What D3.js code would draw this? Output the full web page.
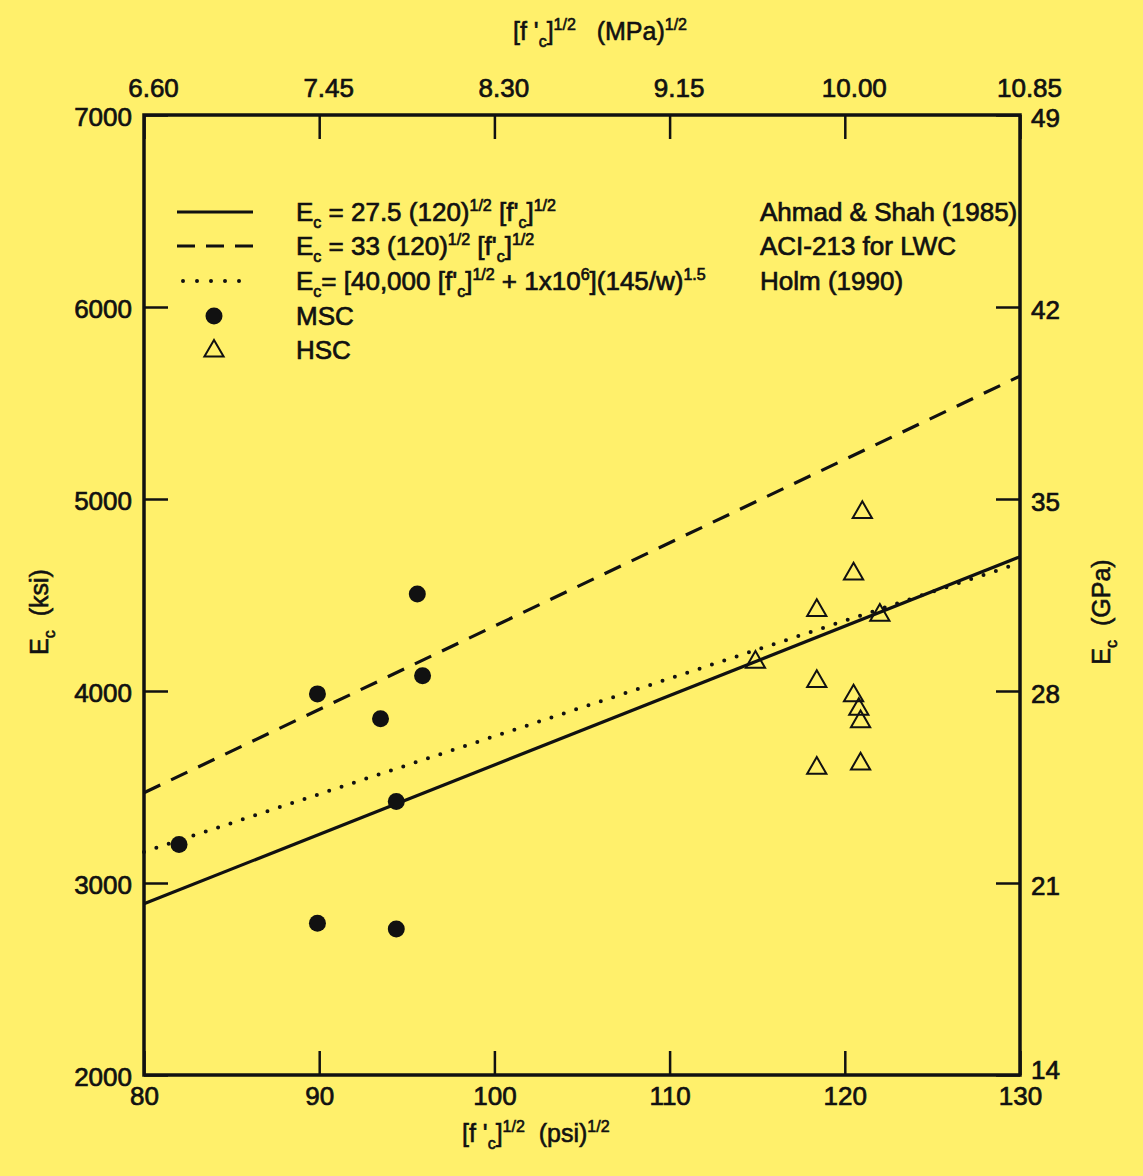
<!DOCTYPE html>
<html>
<head>
<meta charset="utf-8">
<script src="https://cdn.jsdelivr.net/npm/d3@7"></script>
<style>
  html, body { margin: 0; padding: 0; background: #fff06b; }
  svg text { font-family: "Liberation Sans", Arial, sans-serif; fill: #111; }
</style>
</head>
<body>
<div id="chart"></div>
<script>
// axis ticks
var psiTicks = [80, 90, 100, 110, 120, 130];
var mpaTicks = [6.60, 7.45, 8.30, 9.15, 10.00, 10.85];
var ksiTicks = [2000, 3000, 4000, 5000, 6000, 7000];
var gpaTicks = [14, 21, 28, 35, 42, 49];

// MSC (filled circles), [f'c]^1/2 psi vs Ec ksi
var mscX = [82.0, 89.9, 89.9, 93.5, 94.4, 94.4, 95.6, 95.9];
var mscY = [3200, 3985, 2790, 3855, 3425, 2760, 4505, 4080];

// HSC (open triangles)
var hscX = [121.0, 120.5, 118.4, 122.0, 114.9, 118.4, 120.5, 120.8, 120.9, 118.4, 120.9];
var hscY = [4930, 4610, 4420, 4395, 4150, 4050, 3975, 3905, 3840, 3598, 3620];

// relations, end points at 80 and 130
var lineX = [80, 130];
var ahmadShah = [2892, 4699];
var aci213 = [3470, 5640];
var holm = [3162, 4667];

(function() {
var W = 1143, H = 1176;
var mL = 144, mR = 1020, mT = 115, mB = 1075;

var svg = d3.select('#chart').append('svg')
  .attr('width', W).attr('height', H);

svg.append('rect').attr('width', W).attr('height', H).attr('fill', '#fff06b');

var x = d3.scaleLinear().domain([80, 130]).range([mL, mR]);
var xTop = d3.scaleLinear().domain([6.60, 10.85]).range([mL, mR]);
var y = d3.scaleLinear().domain([2000, 7000]).range([mB, mT]);
var yRight = d3.scaleLinear().domain([14, 49]).range([mB, mT]);

// write text with sub / superscript parts
function rich(sel, parts) {
  var shift = 0;
  parts.forEach(function(p) {
    var t = sel.append('tspan').text(p[0]);
    var want = p[1] === 'sup' ? -10 : p[1] === 'sub' ? 7 : 0;
    t.attr('dy', want - shift);
    if (p[1] !== 'n') t.style('font-size', '16px');
    shift = want;
  });
  return sel;
}

var tickLen = 24;

// axes, ticks pointing inward
var axB = svg.append('g').attr('transform', 'translate(0,' + mB + ')')
  .call(d3.axisBottom(x).tickValues(psiTicks).tickSizeInner(-tickLen).tickSizeOuter(0).tickPadding(12));
var axT = svg.append('g').attr('transform', 'translate(0,' + mT + ')')
  .call(d3.axisTop(xTop).tickValues(mpaTicks).tickFormat(d3.format('.2f')).tickSizeInner(-tickLen).tickSizeOuter(0).tickPadding(18));
var axL = svg.append('g').attr('transform', 'translate(' + mL + ',0)')
  .call(d3.axisLeft(y).tickValues(ksiTicks).tickFormat(d3.format('d')).tickSizeInner(-tickLen).tickSizeOuter(0).tickPadding(12));
var axR = svg.append('g').attr('transform', 'translate(' + mR + ',0)')
  .call(d3.axisRight(yRight).tickValues(gpaTicks).tickSizeInner(-tickLen).tickSizeOuter(0).tickPadding(11));

[axB, axT, axL, axR].forEach(function(a) {
  a.select('.domain').remove();
  a.selectAll('.tick line').attr('stroke', '#111').attr('stroke-width', 2.5);
  a.selectAll('.tick text').style('font-size', '26px').attr('fill', '#111')
    .attr('stroke', '#111').attr('stroke-width', 0.7);
});
axT.selectAll('.tick text').attr('dx', 9);
axR.selectAll('.tick text').attr('dy', '0.45em');
axR.selectAll('.tick text').filter(function(d) { return d === 14; }).attr('dy', '0.15em');
axL.selectAll('.tick text').attr('dy', '0.4em');

// frame
svg.append('rect')
  .attr('x', mL).attr('y', mT)
  .attr('width', mR - mL).attr('height', mB - mT)
  .attr('fill', 'none').attr('stroke', '#111').attr('stroke-width', 3.5);

// axis titles
var titleStyle = function(s) { return s.style('font-size', '25px').attr('stroke', '#111').attr('stroke-width', 0.6).attr('xml:space', 'preserve'); };
titleStyle(rich(svg.append('text').attr('x', 462).attr('y', 1142),
  [['[f \'', 'n'], ['c', 'sub'], [']', 'n'], ['1/2', 'sup'], ['  (psi)', 'n'], ['1/2', 'sup']]));
titleStyle(rich(svg.append('text').attr('x', 513).attr('y', 40),
  [['[f \'', 'n'], ['c', 'sub'], [']', 'n'], ['1/2', 'sup'], ['   (MPa)', 'n'], ['1/2', 'sup']]));
titleStyle(rich(svg.append('text').attr('transform', 'translate(48,612) rotate(-90)')
  .attr('text-anchor', 'middle'),
  [['E', 'n'], ['c', 'sub'], ['  (ksi)', 'n']]));
titleStyle(rich(svg.append('text').attr('transform', 'translate(1110,612) rotate(-90)')
  .attr('text-anchor', 'middle'),
  [['E', 'n'], ['c', 'sub'], ['  (GPa)', 'n']]));

// relation lines
var line = d3.line()
  .x(function(d) { return x(d[0]); })
  .y(function(d) { return y(d[1]); });

var plot = svg.append('g');
plot.append('path').datum(d3.zip(lineX, ahmadShah)).attr('d', line)
  .attr('fill', 'none').attr('stroke', '#111').attr('stroke-width', 3.2);
plot.append('path').datum(d3.zip(lineX, aci213)).attr('d', line)
  .attr('fill', 'none').attr('stroke', '#111').attr('stroke-width', 3.2)
  .attr('stroke-dasharray', '18,12');
plot.append('path').datum(d3.zip(lineX, holm)).attr('d', line)
  .attr('fill', 'none').attr('stroke', '#111').attr('stroke-width', 4)
  .attr('stroke-linecap', 'round').attr('stroke-dasharray', '0,13');

// points
plot.selectAll('circle.msc').data(d3.zip(mscX, mscY)).enter()
  .append('circle').attr('class', 'msc')
  .attr('cx', function(d) { return x(d[0]); })
  .attr('cy', function(d) { return y(d[1]); })
  .attr('r', 8.5).attr('fill', '#111');

var tri = d3.symbol().type(d3.symbolTriangle).size(160);
plot.selectAll('path.hsc').data(d3.zip(hscX, hscY)).enter()
  .append('path').attr('class', 'hsc')
  .attr('d', tri)
  .attr('transform', function(d) { return 'translate(' + x(d[0]) + ',' + y(d[1]) + ')'; })
  .attr('fill', 'none').attr('stroke', '#111').attr('stroke-width', 2);

// legend
var lg = svg.append('g');
var rows = [212, 246, 281, 316, 350];
lg.append('line').attr('x1', 177).attr('x2', 253).attr('y1', rows[0]).attr('y2', rows[0])
  .attr('stroke', '#111').attr('stroke-width', 3.2);
lg.append('line').attr('x1', 177).attr('x2', 253).attr('y1', rows[1]).attr('y2', rows[1])
  .attr('stroke', '#111').attr('stroke-width', 3.2).attr('stroke-dasharray', '18,11');
lg.append('line').attr('x1', 183).attr('x2', 253).attr('y1', rows[2]).attr('y2', rows[2])
  .attr('stroke', '#111').attr('stroke-width', 4).attr('stroke-linecap', 'round')
  .attr('stroke-dasharray', '0,14');
lg.append('circle').attr('cx', 214).attr('cy', rows[3]).attr('r', 8.5).attr('fill', '#111');
lg.append('path').attr('d', tri)
  .attr('transform', 'translate(214,' + (rows[4] + 1) + ')')
  .attr('fill', 'none').attr('stroke', '#111').attr('stroke-width', 2);

var tx = 296, fs = '26px';
rich(lg.append('text').attr('x', tx).attr('y', rows[0] + 9).style('font-size', fs),
  [['E', 'n'], ['c', 'sub'], [' = 27.5 (120)', 'n'], ['1/2', 'sup'], [' [f\'', 'n'], ['c', 'sub'], [']', 'n'], ['1/2', 'sup']]);
rich(lg.append('text').attr('x', tx).attr('y', rows[1] + 9).style('font-size', fs),
  [['E', 'n'], ['c', 'sub'], [' = 33 (120)', 'n'], ['1/2', 'sup'], [' [f\'', 'n'], ['c', 'sub'], [']', 'n'], ['1/2', 'sup']]);
rich(lg.append('text').attr('x', tx).attr('y', rows[2] + 9).style('font-size', fs),
  [['E', 'n'], ['c', 'sub'], ['= [40,000 [f\'', 'n'], ['c', 'sub'], [']', 'n'], ['1/2', 'sup'],
   [' + 1x10', 'n'], ['6', 'sup'], ['](145/w)', 'n'], ['1.5', 'sup']]);
lg.append('text').attr('x', tx).attr('y', rows[3] + 9).style('font-size', fs).text('MSC');
lg.append('text').attr('x', tx).attr('y', rows[4] + 9).style('font-size', fs).text('HSC');

var src = ['Ahmad & Shah (1985)', 'ACI-213 for LWC', 'Holm (1990)'];
src.forEach(function(s, i) {
  lg.append('text').attr('x', 760).attr('y', rows[i] + 9).style('font-size', fs).text(s);
});
lg.selectAll('text').attr('stroke', '#111').attr('stroke-width', 0.7);
})();
</script>
</body>
</html>
